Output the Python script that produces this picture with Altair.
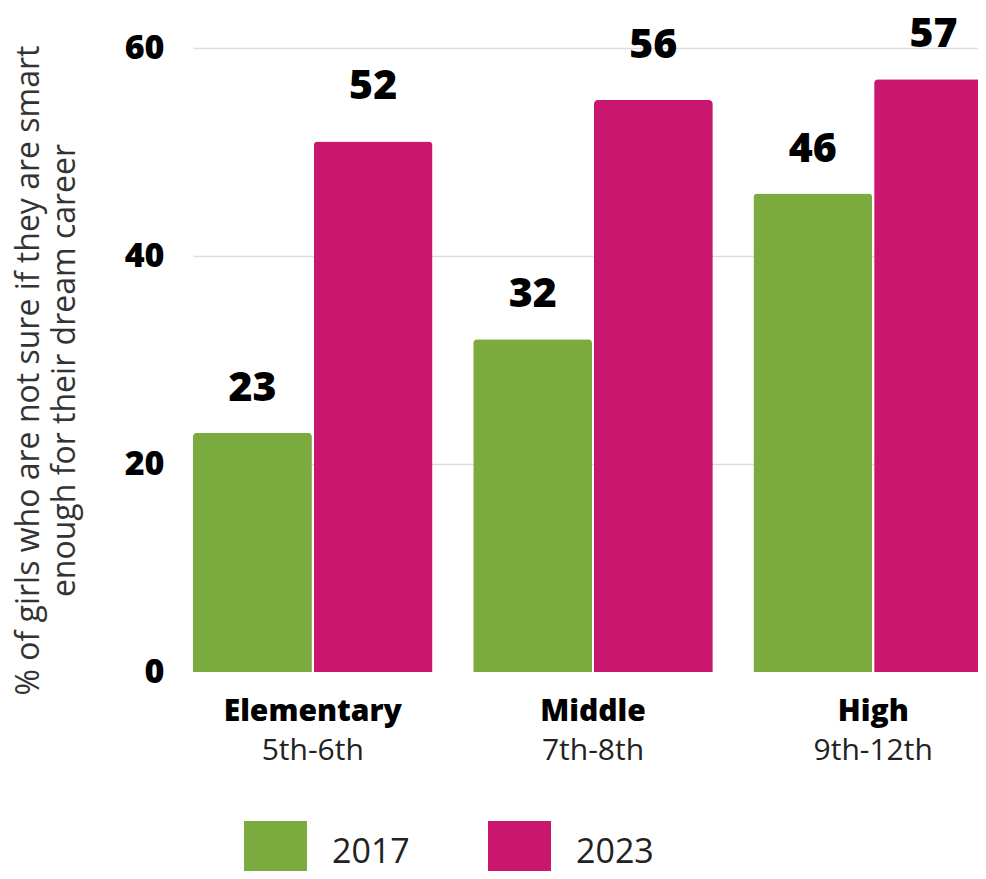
import altair as alt
import pandas as pd

categories = ["Elementary", "Middle", "High"]
grades = ["5th-6th", "7th-8th", "9th-12th"]
years = ["2017", "2023"]
heights_2017 = [23, 32, 46]
heights_2023 = [51, 55, 57]
labels_2017 = [23, 32, 46]
labels_2023 = [52, 56, 57]
colors = ["#7bab3f", "#c9166f"]
y_ticks = [0, 20, 40, 60]
y_title = ["% of girls who are not sure if they are smart", "enough for their dream career"]

FONT = "Open Sans"

rows = []
for i, c in enumerate(categories):
    rows.append({"category": c, "year": years[0], "height": heights_2017[i], "label": labels_2017[i]})
    rows.append({"category": c, "year": years[1], "height": heights_2023[i], "label": labels_2023[i]})
df = pd.DataFrame(rows)

grade_map = "{" + ",".join(f"'{c}':'{g}'" for c, g in zip(categories, grades)) + "}[datum.value]"

xscale = alt.Scale(paddingInner=0.145, paddingOuter=0)
yscale = alt.Scale(domain=[0, 60])
offscale = alt.Scale(paddingInner=0.015)

yaxis = alt.Axis(values=y_ticks, title=y_title, titleFont=FONT,
                 titleFontSize=32, titleFontWeight="normal", titleColor="#333333",
                 titleAngle=270, titleX=-155, titleY=322, titleAlign="center",
                 titleBaseline="alphabetic", titleLineHeight=36,
                 labelFont=FONT, labelFontSize=34, labelFontWeight=800,
                 labelColor="#000000", labelPadding=29, ticks=False, tickSize=0,
                 domain=False, grid=True, gridWidth=1.5,
                 gridColor={"condition": {"test": "datum.value === 0", "value": "transparent"},
                            "value": "#dddddd"})

base = alt.Chart(df)

bars = base.mark_bar(cornerRadiusTopLeft=4, cornerRadiusTopRight=4).encode(
    x=alt.X("category:N", sort=categories, scale=xscale,
            axis=alt.Axis(title=None, orient="bottom", labelAngle=0, labelFont=FONT,
                          labelFontWeight=800, labelFontSize=30, labelColor="#000000",
                          labelPadding=24, ticks=False, tickSize=0, domain=False,
                          labelBaseline="top", grid=False)),
    xOffset=alt.XOffset("year:N", sort=years, scale=offscale),
    y=alt.Y("height:Q", scale=yscale, axis=yaxis),
    color=alt.Color("year:N", sort=years, scale=alt.Scale(domain=years, range=colors),
                    legend=alt.Legend(title=None, orient="none", legendX=51, legendY=773,
                                      direction="horizontal", symbolType="square",
                                      symbolSize=3969, symbolStrokeWidth=0, symbolOpacity=1,
                                      labelFont=FONT, labelFontSize=34, labelColor="#222222",
                                      labelOffset=25, columnPadding=78)),
)

text = base.mark_text(font=FONT, fontSize=41, fontWeight=800, color="#000000",
                      baseline="alphabetic", dy=-32).encode(
    x=alt.X("category:N", sort=categories, scale=xscale,
            axis=alt.Axis(title=None, orient="bottom", labelAngle=0, labelExpr=grade_map,
                          labelFont=FONT, labelFontWeight="normal", labelFontSize=30,
                          labelColor="#222222", labelPadding=63, ticks=False, tickSize=0,
                          domain=False, labelBaseline="top", grid=False)),
    xOffset=alt.XOffset("year:N", sort=years, scale=offscale),
    y=alt.Y("label:Q", scale=yscale, axis=yaxis),
    text=alt.Text("label:Q"),
)

chart = alt.layer(bars, text).resolve_axis(x="independent").properties(
    width=800, height=624,
    autosize=alt.AutoSizeParams(type="none"),
    padding={"left": 185, "top": 40, "right": -15, "bottom": 199},
).configure_view(stroke=None)

chart.save("out.html", embed_options={"renderer": "svg", "actions": False})
